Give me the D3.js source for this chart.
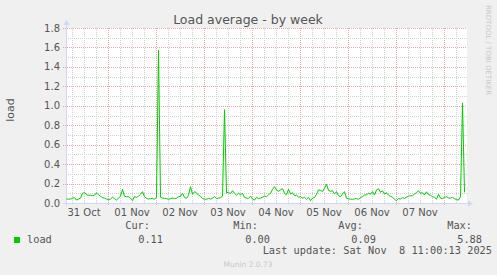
<!DOCTYPE html>
<html>
<head>
<meta charset="utf-8">
<script src="https://cdn.jsdelivr.net/npm/d3@7"></script>
<style>
  html, body { margin: 0; padding: 0; background: #f0f0f0; }
  svg { display: block; }
</style>
</head>
<body>
<svg id="chart"></svg>
<script>
// hourly load average
const loadValues = [
  0.04, 0.04, 0.04, 0.05, 0.055, 0.03, 0.04, 0.05, 0.10, 0.11,
  0.085, 0.08, 0.08, 0.075, 0.08, 0.105, 0.085, 0.07, 0.055, 0.05,
  0.04, 0.035, 0.04, 0.06, 0.045, 0.03, 0.05, 0.07, 0.14, 0.07,
  0.065, 0.065, 0.05, 0.025, 0.065, 0.058, 0.07, 0.09, 0.117, 0.065,
  0.048, 0.04, 0.045, 0.048, 0.038, 0.06, 1.57, 0.06, 0.05, 0.048,
  0.045, 0.038, 0.045, 0.05, 0.045, 0.05, 0.065, 0.07, 0.10, 0.058,
  0.048, 0.08, 0.168, 0.09, 0.117, 0.105, 0.08, 0.07, 0.045, 0.04,
  0.038, 0.048, 0.04, 0.05, 0.065, 0.045, 0.05, 0.055, 0.07, 0.96,
  0.106, 0.11, 0.095, 0.127, 0.10, 0.08, 0.10, 0.085, 0.10, 0.058,
  0.05, 0.048, 0.07, 0.04, 0.03, 0.058, 0.045, 0.05, 0.058, 0.072,
  0.065, 0.085, 0.10, 0.14, 0.168, 0.135, 0.12, 0.134, 0.148, 0.10,
  0.085, 0.14, 0.093, 0.106, 0.075, 0.08, 0.06, 0.065, 0.05, 0.058,
  0.038, 0.058, 0.024, 0.05, 0.055, 0.09, 0.135, 0.13, 0.117, 0.151,
  0.192, 0.13, 0.12, 0.127, 0.093, 0.117, 0.075, 0.065, 0.093, 0.117,
  0.048, 0.042, 0.04, 0.038, 0.042, 0.045, 0.038, 0.055, 0.065, 0.082,
  0.085, 0.10, 0.09, 0.117, 0.082, 0.134, 0.148, 0.11, 0.125, 0.093,
  0.106, 0.08, 0.068, 0.06, 0.038, 0.024, 0.045, 0.042, 0.055, 0.048,
  0.06, 0.07, 0.075, 0.075, 0.093, 0.106, 0.125, 0.10, 0.106, 0.082,
  0.115, 0.085, 0.08, 0.065, 0.058, 0.04, 0.09, 0.05, 0.045, 0.058,
  0.065, 0.052, 0.05, 0.058, 0.045, 0.035, 0.03, 0.065, 1.03, 0.11
];
const yTicks = [0.0, 0.2, 0.4, 0.6, 0.8, 1.0, 1.2, 1.4, 1.6, 1.8];
const labelDays = ["2025-10-31", "2025-11-01", "2025-11-02", "2025-11-03",
                   "2025-11-04", "2025-11-05", "2025-11-06", "2025-11-07"];
const statNames = ["Cur:", "Min:", "Avg:", "Max:"];
const statValues = ["0.11", "0.00", "0.09", "5.88"];

const startTime = Date.UTC(2025, 9, 31, 3, 0, 13);
const endTime = Date.UTC(2025, 10, 8, 11, 0, 13);

const colors = {
  back: '#f0f0f0',
  canvas: '#ffffff',
  font: '#555555',
  axis: '#cfd6f8',
  grid: '#d2d2d2',
  mgrid: '#e6a8a8',
  line: '#00cc00',
  faint: '#c8c8c8'
};

const width = 497, height = 275;
const plot = { left: 66, right: 467, top: 28, bottom: 203 };

const svg = d3.select("#chart")
  .attr("width", width)
  .attr("height", height);

svg.append("rect")
  .attr("width", width).attr("height", height)
  .attr("fill", colors.back);

// scales
const x = d3.scaleUtc()
  .domain([new Date(startTime), new Date(endTime)])
  .range([plot.left, plot.right - 1]);

const y = d3.scaleLinear()
  .domain([0, 1.8])
  .range([plot.bottom, plot.top]);

// canvas
svg.append("rect")
  .attr("x", plot.left).attr("y", plot.top)
  .attr("width", plot.right - plot.left)
  .attr("height", plot.bottom - plot.top)
  .attr("fill", colors.canvas);

const grid = svg.append("g").attr("shape-rendering", "crispEdges");

// vertical minor grid every 6 hours
const minorTimes = d3.utcHour.every(6).range(x.domain()[0], x.domain()[1])
  .filter(d => d.getUTCHours() !== 0);
grid.selectAll(".vminor")
  .data(minorTimes)
  .enter().append("line")
  .attr("x1", d => Math.round(x(d)) + 0.5)
  .attr("x2", d => Math.round(x(d)) + 0.5)
  .attr("y1", plot.top)
  .attr("y2", plot.bottom)
  .attr("stroke", colors.grid)
  .attr("stroke-dasharray", "1,1");

// horizontal minor grid every 0.1
const minorY = d3.range(1, 18, 2).map(d => d / 10);
grid.selectAll(".hminor")
  .data(minorY)
  .enter().append("line")
  .attr("x1", plot.left)
  .attr("x2", plot.right)
  .attr("y1", d => Math.round(y(d)) + 0.5)
  .attr("y2", d => Math.round(y(d)) + 0.5)
  .attr("stroke", colors.grid)
  .attr("stroke-dasharray", "1,1");

// major grid: days and 0.2 steps
const dayTimes = d3.utcDay.range(x.domain()[0], x.domain()[1]);
grid.selectAll(".vmajor")
  .data(dayTimes)
  .enter().append("line")
  .attr("x1", d => Math.round(x(d)) + 0.5)
  .attr("x2", d => Math.round(x(d)) + 0.5)
  .attr("y1", plot.top)
  .attr("y2", plot.bottom + 3)
  .attr("stroke", colors.mgrid)
  .attr("stroke-dasharray", "1,1");

grid.selectAll(".hmajor")
  .data(yTicks.slice(1))
  .enter().append("line")
  .attr("x1", plot.left - 3)
  .attr("x2", plot.right)
  .attr("y1", d => Math.round(y(d)) + 0.5)
  .attr("y2", d => Math.round(y(d)) + 0.5)
  .attr("stroke", colors.mgrid)
  .attr("stroke-dasharray", "1,1");

// axes with arrows
const axisG = svg.append("g").attr("shape-rendering", "crispEdges");
axisG.append("line")
  .attr("x1", plot.left - 3).attr("x2", plot.right + 1)
  .attr("y1", plot.bottom + 0.5).attr("y2", plot.bottom + 0.5)
  .attr("stroke", colors.axis);
axisG.append("line")
  .attr("x1", plot.left + 0.5).attr("x2", plot.left + 0.5)
  .attr("y1", plot.bottom + 3).attr("y2", plot.top - 4)
  .attr("stroke", colors.axis);
svg.append("path")
  .attr("d", `M${plot.right + 1},${plot.bottom - 2.5}L${plot.right + 6},${plot.bottom + 0.5}L${plot.right + 1},${plot.bottom + 3.5}Z`)
  .attr("fill", colors.axis);
svg.append("path")
  .attr("d", `M${plot.left - 2.5},${plot.top - 3}L${plot.left + 0.5},${plot.top - 8}L${plot.left + 3.5},${plot.top - 3}Z`)
  .attr("fill", colors.axis);

// load line
const times = loadValues.map((v, i) => new Date(startTime + i * 3600e3));
const line = d3.line()
  .x((d, i) => x(times[i]) + 0.5)
  .y(d => y(d));

svg.append("path")
  .datum(loadValues)
  .attr("d", line)
  .attr("fill", "none")
  .attr("stroke", colors.line)
  .attr("stroke-width", 1);

// y tick labels
svg.append("g")
  .selectAll("text")
  .data(yTicks)
  .enter().append("text")
  .attr("x", plot.left - 6)
  .attr("y", d => y(d) + 3.5)
  .attr("text-anchor", "end")
  .attr("fill", colors.font)
  .attr("font-family", "DejaVu Sans")
  .attr("font-size", "10px")
  .text(d => d3.format(".1f")(d));

// x day labels at noon
const fmtDay = d3.utcFormat("%d %b");
svg.append("g")
  .selectAll("text")
  .data(labelDays)
  .enter().append("text")
  .attr("x", d => x(new Date(d + "T12:00:00Z")))
  .attr("y", 216)
  .attr("text-anchor", "middle")
  .attr("fill", colors.font)
  .attr("font-family", "DejaVu Sans")
  .attr("font-size", "10px")
  .text(d => fmtDay(new Date(d + "T00:00:00Z")));

// title
svg.append("text")
  .attr("x", 248)
  .attr("y", 24)
  .attr("text-anchor", "middle")
  .attr("fill", colors.font)
  .attr("font-family", "DejaVu Sans")
  .attr("font-size", "12.5px")
  .text("Load average - by week");

// y axis label
svg.append("text")
  .attr("transform", "translate(14,110) rotate(-90)")
  .attr("text-anchor", "middle")
  .attr("fill", colors.font)
  .attr("font-family", "DejaVu Sans")
  .attr("font-size", "11px")
  .text("load");

// rrdtool watermark
svg.append("text")
  .attr("transform", "translate(486,5) rotate(90)")
  .attr("fill", colors.faint)
  .attr("font-family", "DejaVu Sans")
  .attr("font-size", "7px")
  .text("RRDTOOL / TOBI OETIKER");

// legend
const mono = "DejaVu Sans Mono";
svg.append("rect")
  .attr("x", 14).attr("y", 237)
  .attr("width", 6).attr("height", 6)
  .attr("fill", colors.line);
svg.append("text")
  .attr("x", 27).attr("y", 243)
  .attr("fill", colors.font)
  .attr("font-family", mono)
  .attr("font-size", "10.3px")
  .text("load");

const nameRight = [150, 258, 363, 472];
const valueRight = [163, 270, 376, 482];
svg.append("g")
  .selectAll("text")
  .data(statNames)
  .enter().append("text")
  .attr("x", (d, i) => nameRight[i])
  .attr("y", 229)
  .attr("text-anchor", "end")
  .attr("fill", colors.font)
  .attr("font-family", mono)
  .attr("font-size", "10.3px")
  .text(d => d);
svg.append("g")
  .selectAll("text")
  .data(statValues)
  .enter().append("text")
  .attr("x", (d, i) => valueRight[i])
  .attr("y", 243)
  .attr("text-anchor", "end")
  .attr("fill", colors.font)
  .attr("font-family", mono)
  .attr("font-size", "10.3px")
  .text(d => d);

svg.append("text")
  .attr("x", 492).attr("y", 254)
  .attr("text-anchor", "end")
  .attr("fill", colors.font)
  .attr("font-family", mono)
  .attr("font-size", "10.3px")
  .style("white-space", "pre")
  .text("Last update: Sat Nov  8 11:00:13 2025");

svg.append("text")
  .attr("x", 248).attr("y", 267)
  .attr("text-anchor", "middle")
  .attr("fill", colors.faint)
  .attr("font-family", "DejaVu Sans")
  .attr("font-size", "7.5px")
  .text("Munin 2.0.73");
</script>
</body>
</html>
